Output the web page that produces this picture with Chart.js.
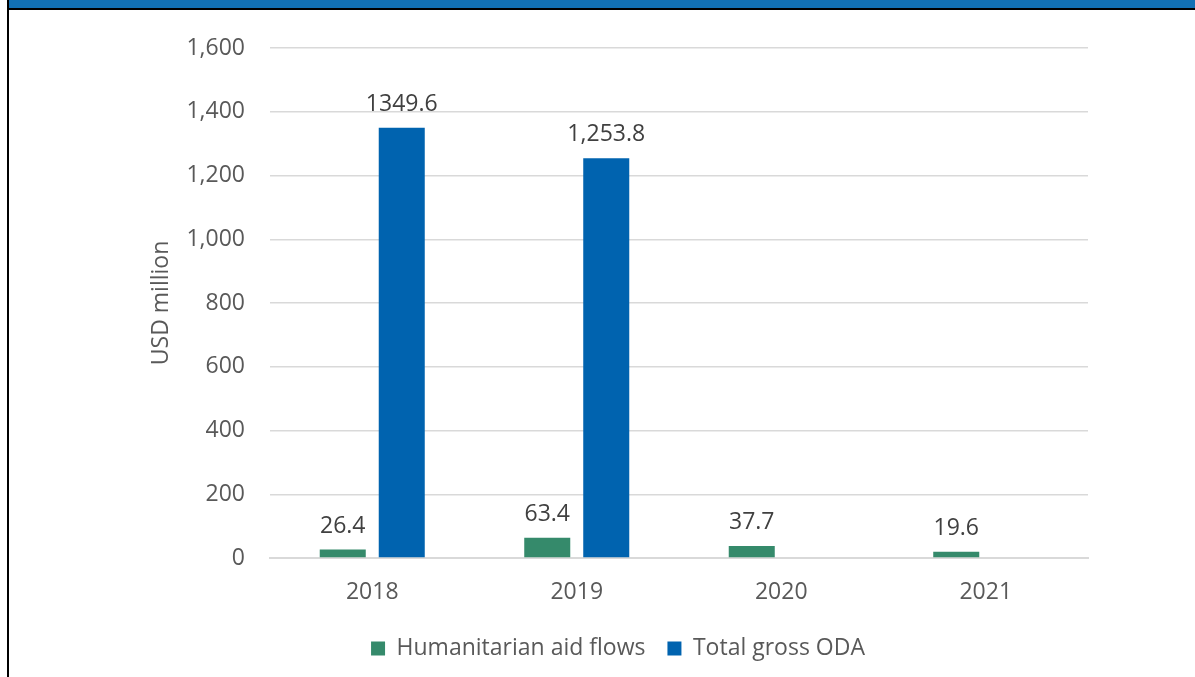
<!DOCTYPE html>
<html>
<head>
<meta charset="utf-8">
<script src="https://cdn.jsdelivr.net/npm/chart.js@4.4.1/dist/chart.umd.min.js"></script>
<style>
  html, body { margin: 0; padding: 0; background: #fff; }
  body { width: 1195px; height: 677px; position: relative; overflow: hidden; }
  #wrap { position: absolute; left: 0; top: 0; width: 1195px; height: 677px; }
  #hdr { position: absolute; left: 9px; top: 0; width: 1186px; height: 8px; background: #1271B5; }
  #hdrline { position: absolute; left: 7px; top: 8px; width: 1188px; height: 2px; background: #000; }
  #lborder { position: absolute; left: 7px; top: 0; width: 2px; height: 677px; background: #000; }
</style>
</head>
<body>
<div id="wrap"><canvas id="c" width="1195" height="677"></canvas></div>
<div id="hdr"></div>
<div id="hdrline"></div>
<div id="lborder"></div>
<script>
const categories = ['2018', '2019', '2020', '2021'];
const humanitarianValues = [26.4, 63.4, 37.7, 19.6];
const odaValues = [1349.6, 1253.8, null, null];
const humanitarianLabels = ['26.4', '63.4', '37.7', '19.6'];
const odaLabels = ['1349.6', '1,253.8', null, null];
const seriesNames = ['Humanitarian aid flows', 'Total gross ODA'];
const yTicks = [0, 200, 400, 600, 800, 1000, 1200, 1400, 1600];

const FONT = "'Open Sans', 'Noto Sans', sans-serif";
const FS = 23;

const valueLabelPlugin = {
  id: 'valueLabels',
  afterDatasetsDraw(chart) {
    const ctx = chart.ctx;
    const labelSets = [humanitarianLabels, odaLabels];
    ctx.save();
    ctx.font = FS + "px " + FONT;
    ctx.fillStyle = '#404040';
    ctx.textAlign = 'center';
    ctx.textBaseline = 'bottom';
    chart.data.datasets.forEach((ds, di) => {
      const meta = chart.getDatasetMeta(di);
      meta.data.forEach((bar, i) => {
        const txt = labelSets[di][i];
        if (txt == null || ds.data[i] == null) return;
        ctx.fillText(txt, bar.x, bar.y - 12);
      });
    });
    ctx.restore();
  }
};

new Chart(document.getElementById('c'), {
  type: 'bar',
  data: {
    labels: categories,
    datasets: [
      { label: seriesNames[0], data: humanitarianValues, backgroundColor: '#358A6B',
        categoryPercentage: 0.577, barPercentage: 0.78 },
      { label: seriesNames[1], data: odaValues, backgroundColor: '#0063AF',
        categoryPercentage: 0.577, barPercentage: 0.78 }
    ]
  },
  options: {
    responsive: false,
    animation: false,
    devicePixelRatio: 1,
    layout: { padding: { left: 148, right: 107, top: 48, bottom: 7 } },
    plugins: {
      legend: {
        position: 'bottom',
        labels: {
          font: { family: FONT, size: FS },
          color: '#595959',
          boxWidth: 14,
          boxHeight: 14,
          padding: 22
        }
      },
      tooltip: { enabled: false }
    },
    scales: {
      x: {
        grid: { display: false, drawTicks: false },
        border: { display: true, color: '#d9d9d9', width: 2 },
        ticks: { font: { family: FONT, size: FS }, color: '#595959', padding: 21 },
        afterFit(scale) { scale.height = 57; }
      },
      y: {
        min: 0, max: 1600,
        afterBuildTicks(scale) { scale.ticks = yTicks.map(v => ({ value: v })); },
        grid: { color: '#d9d9d9', lineWidth: 1.5, drawTicks: false },
        border: { display: false },
        ticks: { font: { family: FONT, size: FS }, color: '#595959', padding: 25,
          callback: v => v.toLocaleString('en-US') },
        title: { display: true, text: 'USD million', font: { family: FONT, size: FS },
          color: '#595959', padding: { top: 0, bottom: 0 } },
        afterFit(scale) { scale.width = 122; }
      }
    }
  },
  plugins: [valueLabelPlugin]
});
</script>
</body>
</html>
